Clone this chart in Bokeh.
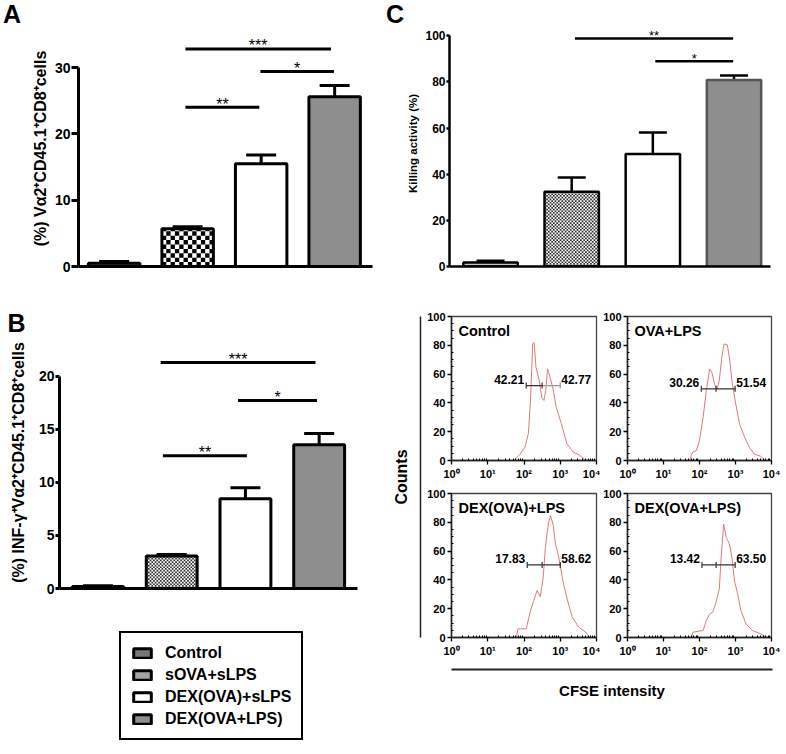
import math
from bokeh.plotting import figure
from bokeh.models import (Range1d, FixedTicker, Whisker, TeeHead, Label, Legend, LegendItem,
                          ColumnDataSource, CustomJSTickFormatter, Div)
from bokeh.layouts import row, column
from bokeh.core.properties import value
from bokeh.embed import file_html
from bokeh.resources import INLINE

FONT = "Liberation Sans"

# ---------------- data ----------------
groups = ["Control", "sOVA+sLPS", "DEX(OVA)+sLPS", "DEX(OVA+LPS)"]
group_x = [1, 2, 3, 4]

a_mean = [0.5, 5.7, 15.5, 25.6]
a_sem = [0.25, 0.3, 1.3, 1.7]
a_sig_x0 = [1.97, 2.99, 1.97]
a_sig_x1 = [3.95, 3.99, 2.975]
a_sig_y = [32.8, 29.4, 24.0]
a_sig_text = ["***", "*", "**"]
a_yticks = [0, 10, 20, 30]

b_mean = [0.2, 3.05, 8.45, 13.55]
b_sem = [0.05, 0.15, 1.05, 1.05]
b_sig_x0 = [1.85, 2.9, 1.88]
b_sig_x1 = [3.95, 3.97, 3.02]
b_sig_y = [21.3, 17.7, 12.5]
b_sig_text = ["***", "*", "**"]
b_yticks = [0, 5, 10, 15, 20]

c_mean = [1.7, 32.4, 48.7, 80.8]
c_sem = [0.8, 6.2, 9.4, 2.0]
c_sig_x0 = [2.04, 3.03]
c_sig_x1 = [3.99, 3.99]
c_sig_y = [98.8, 88.9]
c_sig_text = ["**", "*"]
c_yticks = [0, 20, 40, 60, 80, 100]

hist_titles = ["Control", "OVA+LPS", "DEX(OVA)+LPS", "DEX(OVA+LPS)"]
h1_x = [56, 78, 107, 132, 151, 174, 191, 214, 263, 309, 355, 398, 447, 479, 537, 631, 776, 1072, 1514, 2239, 3388, 4677, 5754]
h1_y = [0.7, 4.4, 9.4, 18.7, 41.7, 81, 82, 64.7, 55.5, 44, 41.7, 48.6, 63.6, 61.3, 56.7, 49.8, 37, 25.6, 11.8, 6, 3.7, 0.7, 0]
h2_x = [55, 59, 66, 81, 100, 126, 155, 191, 219, 263, 309, 355, 417, 479, 589, 676, 794, 977, 1288, 1778, 2399, 3311, 5012, 6166, 7079]
h2_y = [0, 3.7, 6, 6.7, 14, 30, 48.6, 63.6, 61.3, 53, 49.8, 55.5, 71.7, 80.9, 80.4, 71.7, 55.5, 41.7, 25.6, 16.4, 9.4, 4.4, 3, 0.7, 0]
h3_x = [62, 68, 115, 151, 186, 229, 257, 282, 339, 389, 468, 537, 631, 741, 912, 1202, 1549, 2138, 3236, 5012, 6166]
h3_y = [0, 6, 6, 18.7, 25.7, 32.6, 30.3, 28.4, 41.8, 62.7, 78.8, 84.6, 78.8, 65, 55.7, 38.4, 26.8, 14.1, 7.2, 3.7, 0.7]
h4_x = [59, 66, 126, 155, 191, 234, 288, 355, 398, 468, 550, 676, 794, 933, 1148, 1413, 1950, 2951, 5012, 7586]
h4_y = [0, 3.7, 4.9, 11.8, 16.4, 17.6, 24.5, 33.8, 55, 78.8, 69.6, 65, 55.7, 39.5, 30.3, 18.7, 9.5, 4.9, 2.5, 0]

gate_lo = [115, 112, 123, 117]
gate_mid = [316, 288, 316, 290]
gate_hi = [1000, 977, 1000, 977]
gate_y = [52, 49.8, 50.4, 50.4]
gate_left_pct = ["42.21", "30.26", "17.83", "13.42"]
gate_right_pct = ["42.77", "51.54", "58.62", "63.50"]

hist_xticks = [1, 10, 100, 1000, 10000]
hist_xtick_labels = ["10\u2070", "10\u00b9", "10\u00b2", "10\u00b3", "10\u2074"]
hist_yticks = [0, 20, 40, 60, 80, 100]

# ---------------- styles ----------------
GROUP_FILL = {"A": ["#707070", None, "white", "#8e8e8e"],
              "B": ["#707070", None, "white", "#8e8e8e"],
              "C": ["#c4c4c4", None, "white", "#8e8e8e"]}
LEGEND_FILL = ["#777777", "#a4a4a4", "white", "#8e8e8e"]


def base_fig(w, h, bl, br, bt, bb, xr, yr, **kw):
    p = figure(width=w, height=h, x_range=xr, y_range=yr, output_backend="svg", toolbar_location=None,
               min_border_left=bl, min_border_right=br, min_border_top=bt, min_border_bottom=bb, **kw)
    p.xgrid.visible = False
    p.ygrid.visible = False
    p.background_fill_color = "white"
    p.border_fill_color = "white"
    return p


def checker_cells(xc, width, top, cell_x, cell_y):
    """black cells of a checkerboard filling the bar [xc-width/2, xc+width/2] x [0, top]"""
    left, right, bottom, tops = [], [], [], []
    x0 = xc - width / 2
    nx = int(math.ceil(width / cell_x))
    ny = int(math.ceil(top / cell_y))
    for i in range(nx):
        for j in range(ny):
            if (i + j) % 2 == 0:
                l = x0 + i * cell_x
                r = min(l + cell_x, xc + width / 2)
                b = j * cell_y
                t = min(b + cell_y, top)
                left.append(l); right.append(r); bottom.append(b); tops.append(t)
    return left, right, bottom, tops


def bar_panel(w, h, bl, br, bt, bb, xr, ytop, means, sems, bw, sx0, sx1, sy, stext, yticks, ylabel,
              label_size, tick_size, lw, tick_out, label_standoff, star_size, tee, cell_px, cell_color, panel):
    p = base_fig(w, h, bl, br, bt, bb, Range1d(*xr), Range1d(0, ytop))
    p.outline_line_color = None
    frame_w = w - bl - br
    frame_h = h - bt - bb
    px_x = frame_w / (xr[1] - xr[0])
    px_y = frame_h / ytop
    src = ColumnDataSource(dict(x=group_x, lower=means, upper=[m + s for m, s in zip(means, sems)]))
    p.add_layout(Whisker(source=src, base="x", lower="lower", upper="upper", dimension="height",
                         line_width=lw, line_color="black",
                         upper_head=TeeHead(size=tee, line_width=lw, line_color="black"),
                         lower_head=None, level="underlay"))
    for i in range(4):
        fill = GROUP_FILL[panel][i]
        line_color = "#555555" if (panel == "C" and i == 3) else "black"
        if fill is None:
            l, r, b, t = checker_cells(group_x[i], bw, means[i], cell_px / px_x, cell_px / px_y)
            p.quad(left=l, right=r, bottom=b, top=t, fill_color=cell_color, line_color=None)
            p.vbar(x=[group_x[i]], top=[means[i]], bottom=0, width=bw, line_width=lw,
                   fill_color=None, line_color=line_color)
        else:
            p.vbar(x=[group_x[i]], top=[means[i]], bottom=0, width=bw, line_width=lw,
                   fill_color=fill, line_color=line_color)
    p.segment(x0=sx0, y0=sy, x1=sx1, y1=sy, line_width=lw, line_color="black")
    p.text(x=[(a + b) / 2 for a, b in zip(sx0, sx1)], y=sy, text=stext, text_align="center",
           text_baseline="alphabetic", y_offset=-3, text_font=value(FONT),
           text_font_size=value(star_size), text_color="black")
    # axes
    p.xaxis.ticker = FixedTicker(ticks=[])
    p.xaxis.axis_line_width = lw
    p.xaxis.major_tick_line_color = None
    p.xaxis.minor_tick_line_color = None
    ax = p.yaxis[0]
    ax.ticker = FixedTicker(ticks=yticks)
    ax.bounds = (yticks[0], yticks[-1])
    ax.axis_line_width = lw
    ax.major_tick_line_width = lw
    ax.major_tick_out = tick_out
    ax.major_tick_in = 0
    ax.minor_tick_line_color = None
    ax.major_label_standoff = 1
    ax.major_label_text_font = FONT
    ax.major_label_text_font_style = "bold"
    ax.major_label_text_font_size = tick_size
    ax.major_label_text_color = "black"
    ax.axis_label = ylabel
    ax.axis_label_text_font = FONT
    ax.axis_label_text_font_style = "bold"
    ax.axis_label_text_font_size = label_size
    ax.axis_label_text_color = "black"
    ax.axis_label_standoff = label_standoff
    return p


def letter_div(w, h, text, pad_left, pad_top):
    return Div(text=text, width=w, height=h, margin=(0, 0, 0, 0),
               styles={"font-family": FONT, "font-weight": "bold", "font-size": "25px",
                       "line-height": "1", "color": "black", "padding-left": f"{pad_left}px",
                       "padding-top": f"{pad_top}px", "box-sizing": "border-box"})


# Panel A (x 28..380, y 0..300)
lettA = letter_div(28, 300, "A", 3, 2)
pA = bar_panel(352, 300, 45, 8, 30, 34, (0.515, 4.515), 35.58, a_mean, a_sem, 0.70,
               a_sig_x0, a_sig_x1, a_sig_y, a_sig_text, a_yticks,
               "(%) V\u03b12\u207aCD45.1\u207aCD8\u207acells", "16px", "14px", 3, 7, 3, "16px", 30,
               4.4, "black", "A")

# Panel B (x 0..380, y 300..630)
pB = bar_panel(380, 330, 59, 23, 36, 42, (0.478, 4.52), 23.74, b_mean, b_sem, 0.69,
               b_sig_x0, b_sig_x1, b_sig_y, b_sig_text, b_yticks,
               "(%) INF-\u03b3\u207aV\u03b12\u207aCD45.1\u207aCD8\u207acells", "16px", "14px", 3, 4, 9,
               "16px", 30, 1.7, "#303030", "B")
pB.title.text = "B"
pB.title.align = "left"
pB.title.offset = -52
pB.title.standoff = 0
pB.title.text_font = FONT
pB.title.text_font_style = "bold"
pB.title.text_font_size = "25px"
pB.title.text_color = "black"

# Legend (x 0..380, y 630..753); its frame is aligned with panel B's frame (x 59..357).
# The legend's renderers hold panel B's bars; they sit underneath the opaque legend box.
pL = base_fig(380, 123, 59, 23, 0, 0, Range1d(-1.1, 5.85), Range1d(-5.8, 18),
              x_axis_location=None, y_axis_location=None)
pL.outline_line_color = None
leg_renderers = []
for i in range(4):
    leg_renderers.append(pL.vbar(x=[group_x[i]], top=[b_mean[i]], bottom=0, width=0.5,
                                 fill_color=LEGEND_FILL[i], line_color="black", line_width=3))
legend = Legend(items=[LegendItem(label=g, renderers=[r]) for g, r in zip(groups, leg_renderers)],
                location=(60, 13), orientation="vertical",
                border_line_color="black", border_line_width=2, border_line_alpha=1,
                background_fill_color="white", background_fill_alpha=1,
                label_text_font=FONT, label_text_font_style="bold", label_text_font_size="16px",
                label_text_color="black",
                glyph_width=22, glyph_height=12, label_standoff=12, padding=10, spacing=3,
                label_height=19)
pL.add_layout(legend)

# Panel C (x 404..785, y 0..300)
lettC = letter_div(24, 300, "C", 6, 2)
pC = bar_panel(381, 300, 43, 15, 20, 34, (0.494, 4.45), 106.6, c_mean, c_sem, 0.67,
               c_sig_x0, c_sig_x1, c_sig_y, c_sig_text, c_yticks,
               "Killing activity (%)", "11.5px", "12px", 2.5, 3, 3, "13px", 28,
               1.7, "#303030", "C")

# ---------------- histograms ----------------
x_minor = [k * 10 ** d for d in range(4) for k in range(2, 10)]
y_minor = [v for v in range(0, 101, 5) if v % 20 != 0]


def hist_panel(w, h, bl, br, bt, bb, xs, ys, idx):
    p = base_fig(w, h, bl, br, bt, bb, Range1d(1, 10000), Range1d(0, 100), x_axis_type="log")
    p.outline_line_color = "#444444"
    p.outline_line_width = 1.3
    p.line(xs, ys, line_color="#e07a78", line_width=1)
    lo, mid, hi, gy = gate_lo[idx], gate_mid[idx], gate_hi[idx], gate_y[idx]
    c_left = "#333333"
    c_right = "#9a9a9a" if idx == 0 else "#333333"
    p.segment(x0=[lo, mid], y0=[gy, gy], x1=[mid, hi], y1=[gy, gy], line_color=[c_left, c_right],
              line_width=1.2)
    p.scatter(x=[lo, mid, hi], y=[gy, gy, gy], marker="dash", angle=math.pi / 2, size=6,
              line_color=[c_left, c_left, c_right], line_width=1.2)
    p.text(x=[lo], y=[gy], text=[gate_left_pct[idx]], text_align="right", text_baseline="alphabetic",
           x_offset=-2, y_offset=-6, text_font=value(FONT), text_font_style="bold",
           text_font_size=value("12px"), text_color="black")
    p.text(x=[hi], y=[gy], text=[gate_right_pct[idx]], text_align="left", text_baseline="alphabetic",
           x_offset=1, y_offset=-6, text_font=value(FONT), text_font_style="bold",
           text_font_size=value("12px"), text_color="black")
    p.add_layout(Label(x=7, y=h - bt - bb - 6, x_units="screen", y_units="screen", text=hist_titles[idx],
                       text_font=FONT, text_font_style="bold", text_font_size="14.5px",
                       text_baseline="top", text_color="black"))
    xa = p.xaxis[0]
    xa.ticker = FixedTicker(ticks=hist_xticks, minor_ticks=x_minor)
    xa.formatter = CustomJSTickFormatter(args=dict(tick_labels=hist_xtick_labels, tick_values=hist_xticks),
                                         code="const k = tick_values.indexOf(tick); return k >= 0 ? tick_labels[k] : String(tick);")
    ya = p.yaxis[0]
    ya.ticker = FixedTicker(ticks=hist_yticks, minor_ticks=y_minor)
    for a in (xa, ya):
        a.axis_line_width = 1.5
        a.axis_line_color = "#222222"
        a.major_tick_line_width = 1.3
        a.major_tick_out = 4
        a.major_tick_in = 0
        a.minor_tick_in = 2
        a.minor_tick_out = 0
        a.minor_tick_line_width = 1
        a.major_label_text_font = FONT
        a.major_label_text_font_style = "bold"
        a.major_label_text_font_size = "11px"
        a.major_label_text_color = "black"
    xa.major_label_standoff = 3
    ya.major_label_standoff = 2
    return p


h1 = hist_panel(178, 184, 29, 4, 16, 24, h1_x, h1_y, 0)
h2 = hist_panel(185, 184, 26, 14, 16, 24, h2_x, h2_y, 1)
h3 = hist_panel(178, 176, 29, 4, 9, 23, h3_x, h3_y, 2)
h4 = hist_panel(185, 176, 26, 14, 9, 23, h4_x, h4_y, 3)

# left strip with "Counts" (x 380..422, y 300..753)
sL = base_fig(42, 453, 40, 1, 16, 116, Range1d(0, 1), Range1d(0, 1), x_axis_location=None)
sL.outline_line_color = None
ya = sL.yaxis[0]
ya.ticker = FixedTicker(ticks=[])
ya.axis_line_width = 1.5
ya.axis_line_color = "#222222"
ya.major_tick_line_color = None
ya.minor_tick_line_color = None
ya.axis_label = "Counts"
ya.axis_label_text_font = FONT
ya.axis_label_text_font_style = "bold"
ya.axis_label_text_font_size = "16px"
ya.axis_label_text_color = "black"
ya.axis_label_standoff = 11

# bottom strip with "CFSE intensity" (x 422..785, y 660..753)
sB = base_fig(363, 93, 29, 13, 0, 84, Range1d(0, 1), Range1d(0, 1), y_axis_location=None)
sB.outline_line_color = None
xa = sB.xaxis[0]
xa.ticker = FixedTicker(ticks=[])
xa.axis_line_width = 2
xa.axis_line_color = "#222222"
xa.major_tick_line_color = None
xa.minor_tick_line_color = None
xa.axis_label = "CFSE intensity"
xa.axis_label_text_font = FONT
xa.axis_label_text_font_style = "bold"
xa.axis_label_text_font_size = "15px"
xa.axis_label_text_color = "black"
xa.axis_label_standoff = 12

left_col = column(row(lettA, pA), pB, pL)
right_col = column(row(lettC, pC), row(sL, column(row(h1, h2), row(h3, h4), sB)))
layout = row(left_col, right_col)

open("out.html", "w").write(file_html(layout, INLINE))
